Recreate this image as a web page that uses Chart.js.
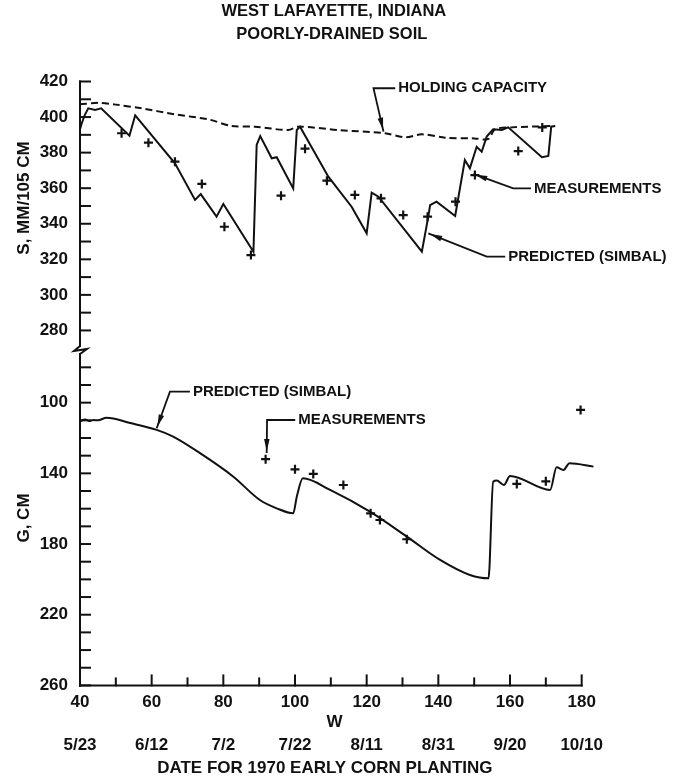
<!DOCTYPE html>
<html>
<head>
<meta charset="utf-8">
<script src="https://cdn.jsdelivr.net/npm/chart.js@4/dist/chart.umd.min.js"></script>
<style>
  html, body { margin: 0; padding: 0; background: #fff; }
  canvas { display: block; }
</style>
</head>
<body>
<canvas id="chart" width="680" height="779"></canvas>
<script>
// ─── Data ─────────────────────────────────────────────────────────────────────

// x axis: W, with the 1970 calendar dates printed under it
const X_TICKS = [40, 60, 80, 100, 120, 140, 160, 180];
const DATE_LABELS = ["5/23", "6/12", "7/2", "7/22", "8/11", "8/31", "9/20", "10/10"];

// top panel: S, mm / 105 cm
const S_TICKS = [280, 300, 320, 340, 360, 380, 400, 420];

const HOLD_W = [40, 45.5, 50, 57.2, 66.5, 75.8, 82.3, 88.8, 98.1, 100.9, 112.1, 125.1, 130.7, 135.4, 141.9, 150, 154, 155.8, 160.5, 172.6];
const HOLD_S = [407.2, 408, 407, 404.9, 401.5, 398.7, 395, 394.6, 392.7, 394.6, 392.7, 390.9, 388.6, 390.3, 388.4, 388, 387.7, 393.1, 394.2, 395];

const PRED_S_W = [40, 40.5, 41.3, 42.3, 44.2, 45.9, 53.8, 55.4, 66.5, 72.1, 73.7, 78.1, 80, 88.4, 89.3, 90.3, 93.5, 94.9, 99.5, 100.5, 101.4, 109.3, 115.8, 120, 121.4, 123.3, 135.4, 137.2, 137.7, 139.5, 144.7, 147.4, 148.8, 150.7, 152.1, 153.5, 155.3, 157.7, 159.5, 168.9, 170.7, 171.5, 172.6];
const PRED_S   = [393.1, 396.5, 401, 404.9, 404, 404.9, 389.5, 401, 374, 353.4, 356.7, 344, 351.1, 324.3, 384.3, 389.3, 376.8, 377.4, 359.9, 392.7, 394.6, 366.5, 349.6, 334.6, 357.5, 355.2, 324.3, 344, 350.5, 352.4, 344.4, 375.8, 371.2, 383.3, 380.5, 389, 393.1, 392.7, 394.2, 377.4, 378.1, 394.6, 395];

const MEAS_S_W = [51.6, 59.1, 66.5, 74, 80.3, 87.7, 96.1, 102.8, 108.9, 116.7, 124, 130.2, 137, 144.8, 150.2, 162.3, 169];
const MEAS_S   = [390.9, 385.6, 374.9, 362.4, 338.3, 322.4, 355.8, 382.2, 364.2, 356.2, 354.3, 344.9, 344, 352.4, 367.4, 380.9, 394.2];

// bottom panel: G, cm (depth, axis runs downward)
const G_TICKS = [100, 140, 180, 220, 260];

const PRED_G_W = [40, 41.5, 42.6, 43.7, 45, 47.4, 54, 61.4, 66, 73.5, 82.8, 90.2, 94.9, 99.5, 100.5, 102.2, 109.8, 120.9, 131.2, 140.5, 148.8, 154, 155.3, 156.3, 158.3, 160, 171.2, 173, 174.9, 176.6, 183.3];
const PRED_G   = [110.5, 109.5, 110.4, 109.8, 110, 108.5, 111.5, 115.4, 119.2, 128.6, 141.9, 155.1, 159.8, 162.6, 153.2, 142.8, 149.4, 161.7, 175.8, 189, 197.5, 199.4, 144.7, 144.1, 146.6, 141.5, 149.4, 136.6, 138.1, 134.3, 136.2];

const MEAS_G_W = [91.8, 100, 105.1, 113.5, 121.1, 123.7, 131.2, 161.9, 170, 179.7];
const MEAS_G   = [132, 137.7, 140.3, 146.6, 162.6, 166.4, 177.3, 146, 144.5, 104.1];

// callout labels: text anchor, elbow of the leader, arrow tip (data units)
const CALLOUTS = [
  { axis: "yS", text: "HOLDING CAPACITY",   tx: 128.8, ty: 416.2, ex: 121.9, px: 124.7, py: 391.8 },
  { axis: "yS", text: "MEASUREMENTS",       tx: 166.7, ty: 359.9, ex: 160.9, px: 149.8, py: 368.0 },
  { axis: "yS", text: "PREDICTED (SIMBAL)", tx: 159.5, ty: 321.5, ex: 153.5, px: 137.2, py: 334.6 },
  { axis: "yG", text: "PREDICTED (SIMBAL)", tx: 71.5,  ty: 93.8,  ex: 65.1,  px: 61.4,  py: 114.5 },
  { axis: "yG", text: "MEASUREMENTS",       tx: 100.9, ty: 109.8, ex: 92.2,  px: 92.1,  py: 128.5 },
];

// ─── Helpers ──────────────────────────────────────────────────────────────────

const INK = "#111";
const FONT = '"Liberation Sans", Arial, sans-serif';

const zip = (xs, ys) => xs.map((x, i) => ({ x, y: ys[i] }));
const setTicks = (values) => (scale) => { scale.ticks = values.map((v) => ({ value: v })); };

function seg(ctx, x1, y1, x2, y2) {
  ctx.beginPath();
  ctx.moveTo(x1, y1);
  ctx.lineTo(x2, y2);
  ctx.stroke();
}

function arrowHead(ctx, tipX, tipY, fromX, fromY) {
  const dx = fromX - tipX, dy = fromY - tipY;
  const len = Math.hypot(dx, dy) || 1;
  const ux = dx / len, uy = dy / len;
  const bx = tipX + ux * 14, by = tipY + uy * 14;
  ctx.beginPath();
  ctx.moveTo(tipX + ux * 2, tipY + uy * 2);
  ctx.lineTo(bx - uy * 2.8, by + ux * 2.8);
  ctx.lineTo(bx + uy * 2.8, by - ux * 2.8);
  ctx.closePath();
  ctx.fill();
}

// ─── Axes frame, break mark, titles, callouts ─────────────────────────────────

const frame = {
  id: "frame",
  afterDraw(chart) {
    const { ctx, chartArea: a, scales } = chart;
    const x = scales.x, yS = scales.yS, yG = scales.yG;
    const x0 = x.getPixelForValue(40), x1 = x.getPixelForValue(180);

    ctx.save();
    ctx.strokeStyle = INK;
    ctx.fillStyle = INK;
    ctx.lineWidth = 2;
    ctx.lineCap = "square";

    // x axis with inward ticks
    seg(ctx, x0, a.bottom, x1, a.bottom);
    for (let v = 40; v <= 180; v += 10) {
      const px = x.getPixelForValue(v);
      seg(ctx, px, a.bottom, px, a.bottom - (v % 20 === 0 ? 10 : 7));
    }

    // top y axis (S)
    const breakY = yS.bottom;
    seg(ctx, x0, yS.getPixelForValue(420), x0, breakY - 4);
    for (let v = 280; v <= 420; v += 10) {
      const py = yS.getPixelForValue(v);
      seg(ctx, x0, py, x0 + 10, py);
    }

    // axis break
    ctx.lineCap = "round";
    ctx.beginPath();
    ctx.moveTo(x0, breakY - 4);
    ctx.lineTo(x0 - 6, breakY + 1);
    ctx.lineTo(x0 + 7, breakY - 1);
    ctx.lineTo(x0, breakY + 4);
    ctx.stroke();
    ctx.lineCap = "square";

    // bottom y axis (G)
    seg(ctx, x0, breakY + 4, x0, a.bottom);
    for (let v = 80; v <= 260; v += 10) {
      const py = yG.getPixelForValue(v);
      if (py < breakY + 6) continue;
      seg(ctx, x0, py, x0 + 10, py);
    }

    // titles
    const cx = (x0 + x1) / 2;
    ctx.textAlign = "center";
    ctx.textBaseline = "middle";
    ctx.font = "bold 16.5px " + FONT;
    ctx.fillText("WEST LAFAYETTE, INDIANA", cx + 3, 11);
    ctx.fillText("POORLY-DRAINED SOIL", cx + 1, 34);
    ctx.font = "bold 17px " + FONT;
    ctx.fillText("W", x.getPixelForValue(111), 722);
    ctx.fillText("DATE FOR 1970 EARLY CORN PLANTING", cx - 6, 768);

    ctx.save();
    ctx.translate(24, 198);
    ctx.rotate(-Math.PI / 2);
    ctx.fillText("S, MM/105 CM", 0, 0);
    ctx.restore();
    ctx.save();
    ctx.translate(24, 518);
    ctx.rotate(-Math.PI / 2);
    ctx.fillText("G, CM", 0, 0);
    ctx.restore();

    // callouts
    ctx.font = "bold 15px " + FONT;
    ctx.textAlign = "left";
    ctx.lineWidth = 1.8;
    ctx.lineCap = "butt";
    CALLOUTS.forEach((c) => {
      const ys = scales[c.axis];
      const tx = x.getPixelForValue(c.tx), ty = ys.getPixelForValue(c.ty);
      const ex = x.getPixelForValue(c.ex);
      const px = x.getPixelForValue(c.px), py = ys.getPixelForValue(c.py);
      ctx.fillText(c.text, tx, ty);
      ctx.beginPath();
      ctx.moveTo(tx - 3, ty);
      ctx.lineTo(ex, ty);
      ctx.lineTo(px, py);
      ctx.stroke();
      arrowHead(ctx, px, py, ex, ty);
    });

    ctx.restore();
  },
};

// ─── Chart ────────────────────────────────────────────────────────────────────

const tickFont = { family: FONT, size: 17, weight: "bold" };
const lineStyle = { borderColor: INK, borderWidth: 2, pointRadius: 0, fill: false };
const crossStyle = {
  showLine: false,
  pointStyle: "cross",
  pointRadius: 4.5,
  pointBorderWidth: 2.2,
  pointBorderColor: INK,
  borderColor: INK,
};

new Chart(document.getElementById("chart"), {
  type: "line",
  data: {
    datasets: [
      { label: "Holding capacity", data: zip(HOLD_W, HOLD_S), yAxisID: "yS", ...lineStyle, borderDash: [7, 4], tension: 0.3 },
      { label: "Predicted S (SIMBAL)", data: zip(PRED_S_W, PRED_S), yAxisID: "yS", ...lineStyle, tension: 0 },
      { label: "Measured S", data: zip(MEAS_S_W, MEAS_S), yAxisID: "yS", ...crossStyle },
      { label: "Predicted G (SIMBAL)", data: zip(PRED_G_W, PRED_G), yAxisID: "yG", ...lineStyle, cubicInterpolationMode: "monotone" },
      { label: "Measured G", data: zip(MEAS_G_W, MEAS_G), yAxisID: "yG", ...crossStyle },
    ],
  },
  options: {
    responsive: false,
    animation: false,
    devicePixelRatio: 1,
    layout: { padding: { top: 81.5, right: 84, left: 0, bottom: 0 } },
    plugins: { legend: { display: false }, tooltip: { enabled: false } },
    scales: {
      x: {
        type: "linear", position: "bottom", weight: 0, min: 40, max: 184,
        grid: { display: false, drawTicks: false }, border: { display: false },
        afterBuildTicks: setTicks(X_TICKS),
        afterFit: (s) => { s.height = 37; },
        ticks: { padding: 7, font: tickFont, color: INK, maxRotation: 0, autoSkip: false },
      },
      xDate: {
        type: "linear", position: "bottom", weight: 1, min: 40, max: 184,
        grid: { display: false, drawTicks: false }, border: { display: false },
        afterBuildTicks: setTicks(X_TICKS),
        afterFit: (s) => { s.height = 56.6; },
        ticks: { padding: 13, font: tickFont, color: INK, maxRotation: 0, autoSkip: false,
                 callback: (v, i) => DATE_LABELS[i] },
      },
      yS: {
        type: "linear", position: "left", stack: "panels", stackWeight: 268.5, weight: 1,
        min: 269, max: 420,
        grid: { display: false, drawTicks: false }, border: { display: false },
        afterBuildTicks: setTicks(S_TICKS),
        afterFit: (s) => { s.width = 80; },
        ticks: { padding: 12, font: tickFont, color: INK, autoSkip: false },
      },
      yG: {
        type: "linear", position: "left", stack: "panels", stackWeight: 335.4, weight: 0,
        min: 70.2, max: 260, reverse: true,
        grid: { display: false, drawTicks: false }, border: { display: false },
        afterBuildTicks: setTicks(G_TICKS),
        afterFit: (s) => { s.width = 80; },
        ticks: { padding: 12, font: tickFont, color: INK, autoSkip: false },
      },
    },
  },
  plugins: [frame],
});
</script>
</body>
</html>
